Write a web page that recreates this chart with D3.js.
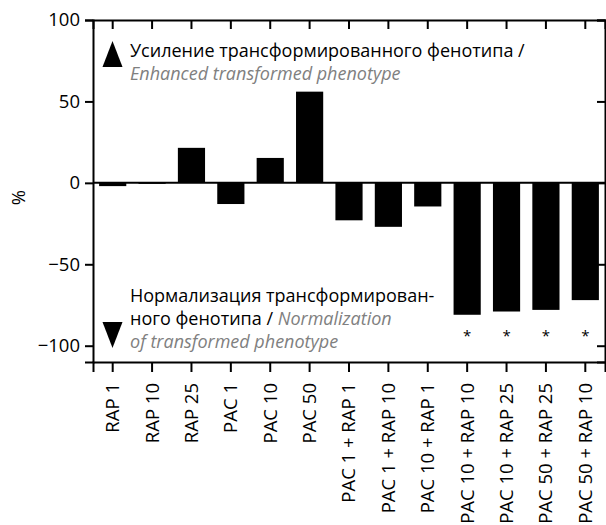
<!DOCTYPE html>
<html>
<head>
<meta charset="utf-8">
<script src="https://cdn.jsdelivr.net/npm/d3@7"></script>
<style>
  body { margin: 0; background: #fff; }
  text { font-family: "Open Sans", "Noto Sans", sans-serif; }
</style>
</head>
<body>
<script>
// groups and values (% change)
var categories = ["RAP 1", "RAP 10", "RAP 25", "PAC 1", "PAC 10", "PAC 50",
    "PAC 1 + RAP 1", "PAC 1 + RAP 10", "PAC 10 + RAP 1", "PAC 10 + RAP 10",
    "PAC 10 + RAP 25", "PAC 50 + RAP 25", "PAC 50 + RAP 10"];
var values = [-2, -0.6, 21.5, -13, 15.3, 56, -23, -27, -14.5, -81, -79, -78, -72];
var significant = [false, false, false, false, false, false, false, false,
    false, true, true, true, true];
var yTicks = [-100, -50, 0, 50, 100];

var width = 606, height = 525;
var margin = {top: 20, right: 1, bottom: 163, left: 93};

var svg = d3.select("body")
    .append("svg")
    .attr("width", width)
    .attr("height", height);

var x = d3.scaleBand()
    .domain(categories)
    .range([margin.left, width - margin.right])
    .paddingInner(0.31)
    .paddingOuter(0.155);

var y = d3.scaleLinear()
    .domain([-110, 100])
    .range([height - margin.bottom, margin.top]);

// bars
svg.append("g")
    .selectAll("rect")
    .data(values)
    .enter()
    .append("rect")
    .attr("x", function(d, i) { return x(categories[i]); })
    .attr("width", x.bandwidth())
    .attr("y", function(d) { return y(Math.max(0, d)); })
    .attr("height", function(d) { return Math.abs(y(d) - y(0)); })
    .attr("fill", "#000");

// zero line
svg.append("line")
    .attr("x1", margin.left).attr("x2", width - margin.right)
    .attr("y1", y(0)).attr("y2", y(0))
    .attr("stroke", "#000").attr("stroke-width", 2);

// asterisks under significant bars
svg.append("g")
    .selectAll("text")
    .data(categories.filter(function(c, i) { return significant[i]; }))
    .enter()
    .append("text")
    .attr("x", function(d) { return x(d) + x.bandwidth() / 2; })
    .attr("y", y(-97))
    .attr("text-anchor", "middle")
    .attr("font-size", "15px")
    .text("*");

function styleAxis(g) {
    g.select(".domain").attr("stroke-width", 2);
    g.selectAll(".tick line").attr("stroke-width", 2);
    g.selectAll(".tick text").attr("font-size", "18.5px").attr("fill", "#000");
}

// left axis
svg.append("g")
    .attr("transform", "translate(" + margin.left + ",0)")
    .call(d3.axisLeft(y).tickValues(yTicks).tickSize(8).tickPadding(5))
    .call(styleAxis);

// right axis, ticks inward
svg.append("g")
    .attr("transform", "translate(" + (width - margin.right) + ",0)")
    .call(d3.axisRight(y).tickValues(yTicks).tickSize(-8).tickFormat(""))
    .call(styleAxis);

// top axis, ticks inward
svg.append("g")
    .attr("transform", "translate(0," + margin.top + ")")
    .call(d3.axisTop(x).tickSize(-9).tickFormat(""))
    .call(styleAxis);

// bottom axis with rotated labels
var xAxis = svg.append("g")
    .attr("transform", "translate(0," + (height - margin.bottom) + ")")
    .call(d3.axisBottom(x).tickSize(10))
    .call(styleAxis);
xAxis.selectAll(".tick text")
    .attr("transform", "rotate(-90)")
    .attr("text-anchor", "end")
    .attr("x", -21)
    .attr("y", 0)
    .attr("dy", "0.35em");

// y label
svg.append("text")
    .attr("transform", "translate(25," + y(-9) + ") rotate(-90)")
    .attr("text-anchor", "middle")
    .attr("font-size", "18.5px")
    .text("%");

// annotation: up
svg.append("path")
    .attr("d", "M112.5,41L122.5,67L102.5,67Z");
var up = svg.append("text").attr("font-size", "18px");
up.append("tspan").attr("x", 130).attr("y", 57)
    .text("Усиление трансформированного фенотипа /");
up.append("tspan").attr("x", 130).attr("y", 80)
    .attr("fill", "#808080").attr("font-style", "italic")
    .text("Enhanced transformed phenotype");

// annotation: down
svg.append("path")
    .attr("d", "M102.5,322L122.5,322L112.5,348Z");
var down = svg.append("text").attr("font-size", "18px");
down.append("tspan").attr("x", 130).attr("y", 302)
    .text("Нормализация трансформирован-");
down.append("tspan").attr("x", 130).attr("y", 325)
    .text("ного фенотипа / ");
down.append("tspan")
    .attr("fill", "#808080").attr("font-style", "italic")
    .text("Normalization");
down.append("tspan").attr("x", 130).attr("y", 348)
    .attr("fill", "#808080").attr("font-style", "italic")
    .text("of transformed phenotype");
</script>
</body>
</html>
